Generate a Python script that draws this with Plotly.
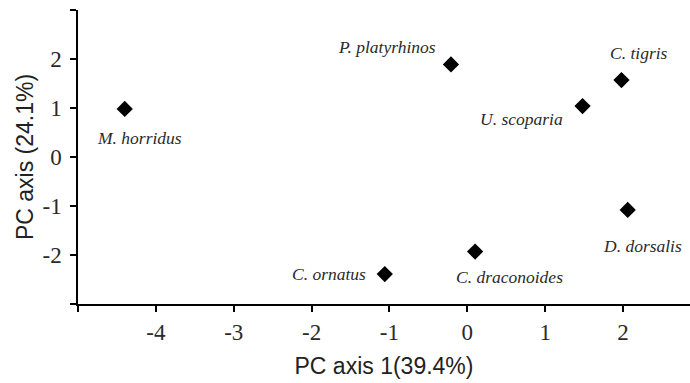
import plotly.graph_objects as go

species = ["M. horridus", "P. platyrhinos", "C. tigris", "U. scoparia",
           "D. dorsalis", "C. draconoides", "C. ornatus"]
pc1 = [-4.40, -0.21, 1.98, 1.48, 2.06, 0.10, -1.06]
pc2 = [0.98, 1.89, 1.57, 1.04, -1.08, -1.93, -2.39]

x_ticks = [-5, -4, -3, -2, -1, 0, 1, 2]
x_ticklabels = ["", "-4", "-3", "-2", "-1", "0", "1", "2"]
y_ticks = [-3, -2, -1, 0, 1, 2, 3]
y_ticklabels = ["", "-2", "-1", "0", "1", "2", ""]

SERIF = "Liberation Serif"
SANS = "Liberation Sans"

# label placement (pixel shifts from each marker)
label_shift = {
    "M. horridus": (15, -29),
    "P. platyrhinos": (-64, 17),
    "C. tigris": (18, 27),
    "U. scoparia": (-61, -13),
    "D. dorsalis": (15, -36),
    "C. draconoides": (34, -25),
    "C. ornatus": (-56, 0),
}

fig = go.Figure()
fig.add_trace(go.Scatter(
    x=pc1, y=pc2, mode="markers",
    marker=dict(symbol="diamond", size=12.5, color="black", line=dict(width=0)),
    hoverinfo="text", text=species, showlegend=False,
))

for name, xv, yv in zip(species, pc1, pc2):
    dx, dy = label_shift[name]
    fig.add_annotation(
        x=xv, y=yv, xref="x", yref="y", text="<i>" + name + "</i>",
        showarrow=False, xshift=dx, yshift=dy,
        xanchor="center", yanchor="middle",
        font=dict(family=SERIF, size=17.5, color="#2a2a2a"),
    )

axis_common = dict(
    showgrid=False, zeroline=False, showline=True, linecolor="black",
    linewidth=1.5, ticks="outside", ticklen=6, tickwidth=1.5,
    tickcolor="black",
    tickfont=dict(family=SERIF, size=23, color="#2a2a2a"),
)

fig.update_xaxes(
    range=[-5, 2.86], tickmode="array", tickvals=x_ticks,
    ticktext=x_ticklabels, ticklabelstandoff=1,
    title=dict(text="PC axis 1(39.4%)", standoff=14,
               font=dict(family=SANS, size=23, color="#222")),
    **axis_common,
)
fig.update_yaxes(
    range=[-3, 3], tickmode="array", tickvals=y_ticks,
    ticktext=y_ticklabels, ticklabelstandoff=4,
    title=dict(text="PC axis (24.1%)", standoff=2,
               font=dict(family=SANS, size=23, color="#222")),
    **axis_common,
)

fig.update_layout(
    width=690, height=383,
    margin=dict(l=78, r=0, t=10, b=79),
    plot_bgcolor="white", paper_bgcolor="white",
)

fig.write_html("out.html")
